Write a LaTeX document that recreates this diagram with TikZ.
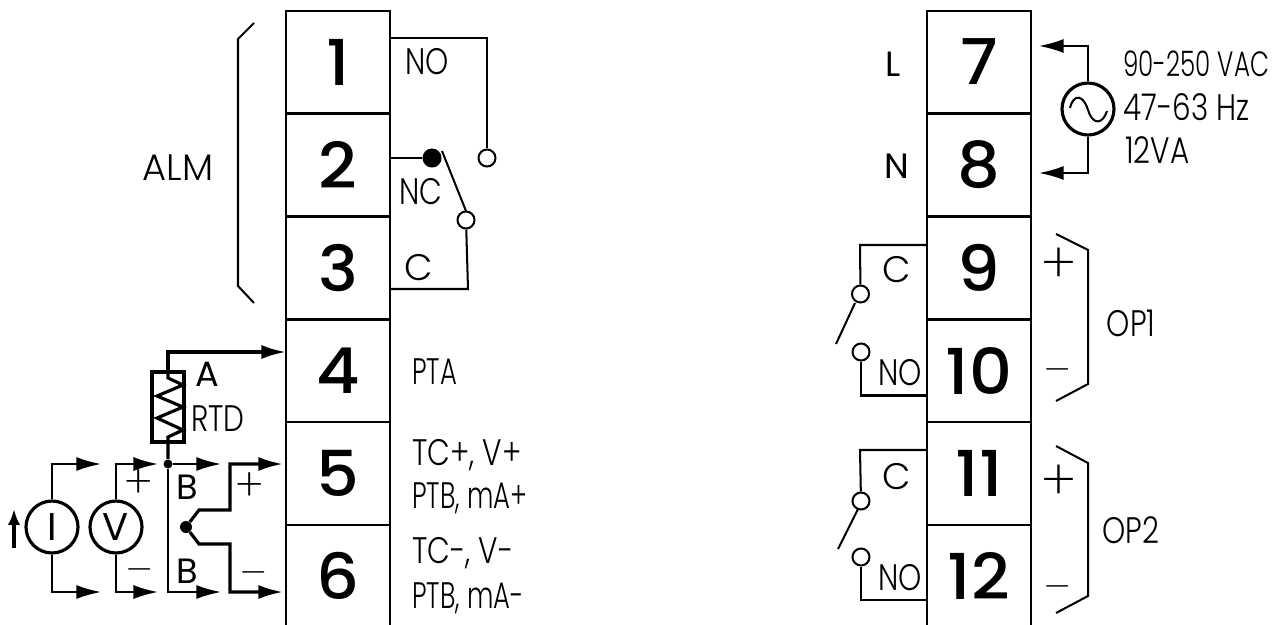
\documentclass[tikz,border=0pt]{standalone}
\usepackage{fontspec}
\usepackage{tikz}
\usepackage{tkz-euclide}
\usetikzlibrary{arrows.meta}
\setmainfont{Poppins}
\newfontfamily\numfonte[FakeStretch=1.06]{Poppins Medium}
\newfontfamily\rotfonte[FakeStretch=0.8]{Poppins Light}
\newfontfamily\largafonte{Poppins Light}
\newfontfamily\estreitafonte[FakeStretch=0.7]{Poppins Light}
\newfontfamily\sinalfonte{Poppins ExtraLight}

\tikzset{
  borne/.style={minimum width=2.08cm,minimum height=2.04cm,inner sep=0pt,font=\numfonte\fontsize{36}{40}\selectfont},
  rotulo/.style={inner sep=0pt,font=\rotfonte\fontsize{21}{24}\selectfont},
  largo/.style={inner sep=0pt,font=\largafonte\fontsize{21}{24}\selectfont},
  estreito/.style={inner sep=0pt,font=\estreitafonte\fontsize{21}{24}\selectfont},
  letra/.style={inner sep=0pt,font=\fontsize{20}{24}\selectfont},
  sinal/.style={inner sep=0pt,font=\sinalfonte\fontsize{32}{36}\selectfont},
  sinalmenor/.style={inner sep=0pt,font=\sinalfonte\fontsize{26}{30}\selectfont},
  fio/.style={line width=1.15pt},
  fiogrosso/.style={line width=1.8pt},
  seta/.style={-{Latex[length=14pt,width=8pt]}},
  contato/.style={circle,draw,line width=1.15pt,minimum size=.34cm,inner sep=0pt},
  fonte/.style={circle,draw,line width=1.8pt,minimum size=1.04cm,inner sep=0pt,font=\fontsize{22}{26}\selectfont},
  junta/.style={circle,fill,inner sep=0pt}
}

\begin{document}
\begin{tikzpicture}[x=0.02cm,y=-0.02cm]
\useasboundingbox (0,0) rectangle (1284,625);

%Bornes da coluna esquerda
%---------------------------------------------------
\node[borne] (B1) at (338,62) {1};
\node[borne] (B2) at (338,165) {2};
\node[borne] (B3) at (338,268) {3};
\node[borne] (B4) at (338,371) {4};
\node[borne] (B5) at (338,473.5) {5};
\node[borne] (B6) at (338,576) {6};
\draw[fio] (B1.north west) rectangle (B1.south east);
\draw[fio] (B2.north west) rectangle (B2.south east);
\draw[fio] (B3.north west) rectangle (B3.south east);
\draw[fio] (B4.north west) rectangle (B4.south east);
\draw[fio] (B5.north west) rectangle (B5.south east);
\draw[fio] (B6.south west) |- (B6.north east) -- (B6.south east);

%Bornes da coluna direita
%---------------------------------------------------
\node[borne] (B7) at (979,62) {7};
\node[borne] (B8) at (979,165) {8};
\node[borne] (B9) at (979,268) {9};
\node[borne] (B10) at (979,371) {10};
\node[borne] (B11) at (979,473.5) {11};
\node[borne] (B12) at (979,576) {12};
\draw[fio] (B7.north west) rectangle (B7.south east);
\draw[fio] (B8.north west) rectangle (B8.south east);
\draw[fio] (B9.north west) rectangle (B9.south east);
\draw[fio] (B10.north west) rectangle (B10.south east);
\draw[fio] (B11.north west) rectangle (B11.south east);
\draw[fio] (B12.south west) |- (B12.north east) -- (B12.south east);

%Pontos auxiliares (x/y/NomedoPonto)
\tkzDefPoints{
390/38/A1,
487/38/A2,
390/158/A3,
442/151/A4,
466/211/A5,
468/289/A6,
390/289/A7,
254/23/K1,
238/39/K2,
238/286/K3,
254/303/K4,
286/352/R1,
168/352/R2,
168/372/R3,
168/378/Z1,
183/385/Z2,
157/396/Z3,
183/407/Z4,
157/418/Z5,
183/430/Z6,
168/437/Z7,
152/372/Q1,
184/442/Q2,
221/464/S1,
168/592/S2,
221/592/S3,
101/464/I1,
52/464/I2,
52/592/I3,
101/592/I4,
158/464/V1,
116/464/V2,
116/592/V3,
158/592/V4,
14/548/F1,
14/509/F2,
199/510/T1,
230/510/T2,
230/464/T3,
283/464/T4,
199/544/T5,
230/544/T6,
230/592/T7,
283/592/T8,
1039/46/L1,
1088/46/L2,
1039/173/L3,
1088/173/L4,
1070/108/W1,
1107/111/W2,
1088/110/W3,
927/245/C1,
860/245/C2,
855/303/C3,
836/344/C4,
861/395.5/C5,
927/395.5/C6,
927/450/C7,
860/450/C8,
858/509/C9,
838/549/C10,
861/600/C11,
927/600/C12,
1056/234/O1,
1088/250/O2,
1088/384/O3,
1056/401/O4,
1056/446/O5,
1088/463/O6,
1088/596/O7,
1056/613/O8}

%Contatos do alarme
%---------------------------------------------------
\node[contato] (CA) at (487,158) {};
\node[contato,fill=black] (CB) at (432,158) {};
\node[contato] (CC) at (466,220) {};
\draw[fio] (A1)--(A2)--(CA);
\draw[fio] (A3)--(CB);
\draw[fio] (A4)--(A5);
\draw[fio] (CC)--(A6)--(A7);
\draw[fio] (K1)--(K2)--(K3)--(K4);

%Sensor RTD
%---------------------------------------------------
\node[junta,minimum size=.18cm] (J1) at (168,464) {};
\draw[fiogrosso,seta] (R3)--(R2)--(R1);
\draw[fiogrosso] (Q1) rectangle (Q2);
\draw[fiogrosso] (R3)--(Z1)--(Z2)--(Z3)--(Z4)--(Z5)--(Z6)--(Z7)--(J1);
\draw[fio,seta] (J1)--(S1);
\draw[fio,seta] (J1)--(S2)--(S3);

%Fontes I e V
%---------------------------------------------------
\node[fonte] (FI) at (52,527) {I};
\node[fonte] (FV) at (116,527) {V};
\draw[fio,seta] (FI)--(I2)--(I1);
\draw[fio,seta] (FI)--(I3)--(I4);
\draw[fio,seta] (FV)--(V2)--(V1);
\draw[fio,seta] (FV)--(V3)--(V4);
\draw[fiogrosso,-{Latex[length=9pt,width=7pt]}] (F1)--(F2);

%Termopar
%---------------------------------------------------
\node[junta,minimum size=.24cm] (J2) at (186,527) {};
\draw[fiogrosso,seta] (J2)--(T1)--(T2)--(T3)--(T4);
\draw[fiogrosso,seta] (J2)--(T5)--(T6)--(T7)--(T8);

%Alimentacao
%---------------------------------------------------
\node[fonte] (FA) at (1088,109) {};
\draw[fio,seta] (FA)--(L2)--(L1);
\draw[fio,seta] (FA)--(L4)--(L3);
\draw[fio] (W1) .. controls (1074,92) and (1084,96) .. (W3) .. controls (1092,124) and (1102,126) .. (W2);

%Reles OP1 e OP2
%---------------------------------------------------
\node[contato] (CD) at (860.5,294) {};
\node[contato] (CE) at (861,352) {};
\node[contato] (CF) at (861,501) {};
\node[contato] (CG) at (861,557) {};
\draw[fio] (C1)--(C2)--(CD);
\draw[fio] (C3)--(C4);
\draw[fio] (CE)--(C5)--(C6);
\draw[fio] (C7)--(C8)--(CF);
\draw[fio] (C9)--(C10);
\draw[fio] (CG)--(C11)--(C12);
\draw[fio] (O1)--(O2)--(O3)--(O4);
\draw[fio] (O5)--(O6)--(O7)--(O8);

%Rotulos
%---------------------------------------------------
\node[largo] (tALM) at (178,168) {ALM};
\node[rotulo] (tNO) at (427,62) {NO};
\node[rotulo] (tNC) at (421,192) {NC};
\node[largo] (tC) at (419,268) {C};
\node[letra] (tA) at (207,374) {A};
\node[rotulo] (tRTD) at (218,419) {RTD};
\node[sinalmenor] (tP1) at (139,484) {+};
\node[rotulo] (tM1) at (140,569) {$-$};
\node[letra] (tB1) at (187,487) {B};
\node[letra] (tB2) at (187,571) {B};
\node[sinalmenor] (tP2) at (250,487) {+};
\node[rotulo] (tM2) at (254,572) {$-$};
\node[estreito,anchor=west] (tPTA) at (412,372) {PTA};
\node[rotulo,anchor=west] (tTC1) at (412,455) {TC+, V+};
\node[estreito,anchor=west] (tPT1) at (412,498) {PTB, mA+};
\node[rotulo,anchor=west] (tTC2) at (412,553) {TC-, V-};
\node[estreito,anchor=west] (tPT2) at (412,598) {PTB, mA-};
\node[letra] (tL) at (893,64) {L};
\node[letra] (tN) at (897,166) {N};
\node[estreito,font=\estreitafonte\fontsize{20}{24}\selectfont,anchor=west] (tVAC) at (1123,64) {90-250 VAC};
\node[rotulo,anchor=west] (tHZ) at (1123,107) {47-63 Hz};
\node[rotulo,anchor=west] (tVA) at (1125,150) {12VA};
\node[largo] (tC9) at (897,270) {C};
\node[rotulo] (tNO10) at (900,373) {NO};
\node[largo] (tC11) at (897,477) {C};
\node[rotulo] (tNO12) at (900,578) {NO};
\node[sinal] (tP9) at (1059,266) {+};
\node[rotulo] (tM10) at (1058,369) {$-$};
\node[sinal] (tP11) at (1059,483) {+};
\node[rotulo] (tM12) at (1058,586) {$-$};
\node[rotulo] (tOP1) at (1131,323) {OP1};
\node[rotulo] (tOP2) at (1131,530) {OP2};

\end{tikzpicture}
\end{document}
